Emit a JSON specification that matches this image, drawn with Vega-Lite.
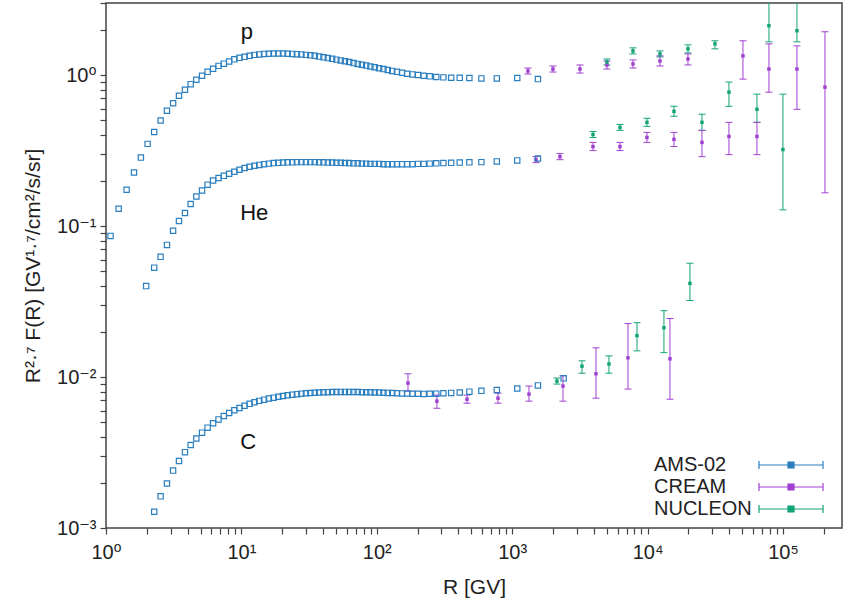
{
  "$schema": "https://vega.github.io/schema/vega-lite/v6.json",
  "width": 736,
  "height": 525,
  "autosize": "none",
  "padding": {"left": 106, "top": 3, "right": 2, "bottom": 75},
  "background": "white",
  "config": {
    "view": {"stroke": "#444", "strokeWidth": 1.5},
    "font": "Liberation Sans",
    "axis": {
      "labelFont": "Liberation Sans, DejaVu Sans",
      "labelFontSize": 20,
      "labelColor": "#222",
      "titleFont": "Liberation Sans, DejaVu Sans",
      "titleFontSize": 21,
      "titleFontWeight": "normal",
      "titleColor": "#222"
    }
  },
  "datasets": {
    "ams": [
      {"e":"AMS-02","R":1.08,"F":0.086},{"e":"AMS-02","R":1.24,"F":0.13},{"e":"AMS-02","R":1.42,"F":0.174},{"e":"AMS-02","R":1.61,"F":0.226},{"e":"AMS-02","R":1.81,"F":0.284},{"e":"AMS-02","R":2.03,"F":0.35},{"e":"AMS-02","R":2.27,"F":0.42},{"e":"AMS-02","R":2.53,"F":0.5},{"e":"AMS-02","R":2.82,"F":0.58},{"e":"AMS-02","R":3.13,"F":0.65},{"e":"AMS-02","R":3.46,"F":0.73},{"e":"AMS-02","R":3.83,"F":0.8},{"e":"AMS-02","R":4.22,"F":0.87},{"e":"AMS-02","R":4.65,"F":0.93},{"e":"AMS-02","R":5.12,"F":0.99},{"e":"AMS-02","R":5.63,"F":1.05},{"e":"AMS-02","R":6.18,"F":1.1},{"e":"AMS-02","R":6.78,"F":1.15},{"e":"AMS-02","R":7.42,"F":1.19},{"e":"AMS-02","R":8.12,"F":1.23},{"e":"AMS-02","R":8.87,"F":1.27},{"e":"AMS-02","R":9.68,"F":1.3},{"e":"AMS-02","R":10.55,"F":1.32},{"e":"AMS-02","R":11.5,"F":1.34},{"e":"AMS-02","R":12.5,"F":1.36},{"e":"AMS-02","R":13.55,"F":1.37},{"e":"AMS-02","R":14.7,"F":1.38},{"e":"AMS-02","R":15.95,"F":1.385},{"e":"AMS-02","R":17.3,"F":1.39},{"e":"AMS-02","R":18.75,"F":1.39},{"e":"AMS-02","R":20.3,"F":1.39},{"e":"AMS-02","R":21.95,"F":1.385},{"e":"AMS-02","R":23.75,"F":1.38},{"e":"AMS-02","R":25.7,"F":1.375},{"e":"AMS-02","R":27.75,"F":1.37},{"e":"AMS-02","R":29.95,"F":1.36},{"e":"AMS-02","R":32.3,"F":1.35},{"e":"AMS-02","R":34.8,"F":1.34},{"e":"AMS-02","R":37.5,"F":1.325},{"e":"AMS-02","R":40.4,"F":1.31},{"e":"AMS-02","R":43.5,"F":1.295},{"e":"AMS-02","R":46.8,"F":1.28},{"e":"AMS-02","R":50.35,"F":1.265},{"e":"AMS-02","R":54.15,"F":1.25},{"e":"AMS-02","R":58.2,"F":1.235},{"e":"AMS-02","R":62.55,"F":1.22},{"e":"AMS-02","R":67.25,"F":1.2},{"e":"AMS-02","R":72.3,"F":1.185},{"e":"AMS-02","R":77.7,"F":1.17},{"e":"AMS-02","R":83.5,"F":1.155},{"e":"AMS-02","R":89.75,"F":1.14},{"e":"AMS-02","R":96.5,"F":1.125},{"e":"AMS-02","R":104,"F":1.11},{"e":"AMS-02","R":112,"F":1.095},{"e":"AMS-02","R":120.5,"F":1.08},{"e":"AMS-02","R":130,"F":1.065},{"e":"AMS-02","R":141,"F":1.05},{"e":"AMS-02","R":153.5,"F":1.035},{"e":"AMS-02","R":167.5,"F":1.02},{"e":"AMS-02","R":183.5,"F":1.01},{"e":"AMS-02","R":201.5,"F":1.0},{"e":"AMS-02","R":222,"F":0.99},{"e":"AMS-02","R":246,"F":0.98},{"e":"AMS-02","R":275,"F":0.97},{"e":"AMS-02","R":310.5,"F":0.965},{"e":"AMS-02","R":354.5,"F":0.96},{"e":"AMS-02","R":410,"F":0.958},{"e":"AMS-02","R":483,"F":0.955},{"e":"AMS-02","R":592.5,"F":0.95},{"e":"AMS-02","R":770,"F":0.95},{"e":"AMS-02","R":1090,"F":0.955},{"e":"AMS-02","R":1550,"F":0.94},

      {"e":"AMS-02","R":1.98,"F":0.04},{"e":"AMS-02","R":2.27,"F":0.053},{"e":"AMS-02","R":2.53,"F":0.0625},{"e":"AMS-02","R":2.82,"F":0.075},{"e":"AMS-02","R":3.13,"F":0.093},{"e":"AMS-02","R":3.46,"F":0.108},{"e":"AMS-02","R":3.83,"F":0.122},{"e":"AMS-02","R":4.22,"F":0.14},{"e":"AMS-02","R":4.65,"F":0.157},{"e":"AMS-02","R":5.12,"F":0.172},{"e":"AMS-02","R":5.63,"F":0.188},{"e":"AMS-02","R":6.18,"F":0.2},{"e":"AMS-02","R":6.78,"F":0.208},{"e":"AMS-02","R":7.42,"F":0.215},{"e":"AMS-02","R":8.12,"F":0.222},{"e":"AMS-02","R":8.87,"F":0.229},{"e":"AMS-02","R":9.68,"F":0.236},{"e":"AMS-02","R":10.55,"F":0.242},{"e":"AMS-02","R":11.5,"F":0.247},{"e":"AMS-02","R":12.5,"F":0.251},{"e":"AMS-02","R":13.55,"F":0.254},{"e":"AMS-02","R":14.7,"F":0.257},{"e":"AMS-02","R":15.95,"F":0.259},{"e":"AMS-02","R":17.3,"F":0.261},{"e":"AMS-02","R":18.75,"F":0.262},{"e":"AMS-02","R":20.3,"F":0.263},{"e":"AMS-02","R":21.95,"F":0.264},{"e":"AMS-02","R":23.75,"F":0.264},{"e":"AMS-02","R":25.7,"F":0.265},{"e":"AMS-02","R":27.75,"F":0.265},{"e":"AMS-02","R":29.95,"F":0.265},{"e":"AMS-02","R":32.3,"F":0.265},{"e":"AMS-02","R":34.8,"F":0.265},{"e":"AMS-02","R":37.5,"F":0.264},{"e":"AMS-02","R":40.4,"F":0.264},{"e":"AMS-02","R":43.5,"F":0.263},{"e":"AMS-02","R":46.8,"F":0.263},{"e":"AMS-02","R":50.35,"F":0.262},{"e":"AMS-02","R":54.15,"F":0.262},{"e":"AMS-02","R":58.2,"F":0.261},{"e":"AMS-02","R":62.55,"F":0.261},{"e":"AMS-02","R":67.25,"F":0.26},{"e":"AMS-02","R":72.3,"F":0.26},{"e":"AMS-02","R":77.7,"F":0.259},{"e":"AMS-02","R":83.5,"F":0.259},{"e":"AMS-02","R":89.75,"F":0.258},{"e":"AMS-02","R":96.5,"F":0.258},{"e":"AMS-02","R":104,"F":0.258},{"e":"AMS-02","R":112,"F":0.257},{"e":"AMS-02","R":120.5,"F":0.257},{"e":"AMS-02","R":130,"F":0.257},{"e":"AMS-02","R":141,"F":0.257},{"e":"AMS-02","R":153.5,"F":0.257},{"e":"AMS-02","R":167.5,"F":0.257},{"e":"AMS-02","R":183.5,"F":0.257},{"e":"AMS-02","R":201.5,"F":0.258},{"e":"AMS-02","R":222,"F":0.258},{"e":"AMS-02","R":246,"F":0.259},{"e":"AMS-02","R":275,"F":0.26},{"e":"AMS-02","R":310.5,"F":0.261},{"e":"AMS-02","R":354.5,"F":0.262},{"e":"AMS-02","R":410,"F":0.263},{"e":"AMS-02","R":483,"F":0.264},{"e":"AMS-02","R":592.5,"F":0.265},{"e":"AMS-02","R":770,"F":0.268},{"e":"AMS-02","R":1090,"F":0.272},{"e":"AMS-02","R":1550,"F":0.28},

      {"e":"AMS-02","R":2.27,"F":0.00128},{"e":"AMS-02","R":2.53,"F":0.00162},{"e":"AMS-02","R":2.82,"F":0.00197},{"e":"AMS-02","R":3.13,"F":0.0024},{"e":"AMS-02","R":3.46,"F":0.00278},{"e":"AMS-02","R":3.83,"F":0.00318},{"e":"AMS-02","R":4.22,"F":0.00355},{"e":"AMS-02","R":4.65,"F":0.00392},{"e":"AMS-02","R":5.12,"F":0.00428},{"e":"AMS-02","R":5.63,"F":0.00462},{"e":"AMS-02","R":6.18,"F":0.00494},{"e":"AMS-02","R":6.78,"F":0.00524},{"e":"AMS-02","R":7.42,"F":0.00552},{"e":"AMS-02","R":8.12,"F":0.00578},{"e":"AMS-02","R":8.87,"F":0.00602},{"e":"AMS-02","R":9.68,"F":0.00624},{"e":"AMS-02","R":10.55,"F":0.00645},{"e":"AMS-02","R":11.5,"F":0.00664},{"e":"AMS-02","R":12.5,"F":0.0068},{"e":"AMS-02","R":13.55,"F":0.00695},{"e":"AMS-02","R":14.7,"F":0.00708},{"e":"AMS-02","R":15.95,"F":0.0072},{"e":"AMS-02","R":17.3,"F":0.0073},{"e":"AMS-02","R":18.75,"F":0.0074},{"e":"AMS-02","R":20.3,"F":0.00749},{"e":"AMS-02","R":21.95,"F":0.00757},{"e":"AMS-02","R":23.75,"F":0.00764},{"e":"AMS-02","R":25.7,"F":0.0077},{"e":"AMS-02","R":27.75,"F":0.00776},{"e":"AMS-02","R":29.95,"F":0.0078},{"e":"AMS-02","R":32.3,"F":0.00784},{"e":"AMS-02","R":34.8,"F":0.00787},{"e":"AMS-02","R":37.5,"F":0.0079},{"e":"AMS-02","R":40.4,"F":0.00792},{"e":"AMS-02","R":43.5,"F":0.00794},{"e":"AMS-02","R":46.8,"F":0.00795},{"e":"AMS-02","R":50.35,"F":0.00796},{"e":"AMS-02","R":54.15,"F":0.00797},{"e":"AMS-02","R":58.2,"F":0.00797},{"e":"AMS-02","R":62.55,"F":0.00797},{"e":"AMS-02","R":67.25,"F":0.00796},{"e":"AMS-02","R":72.3,"F":0.00795},{"e":"AMS-02","R":77.7,"F":0.00794},{"e":"AMS-02","R":83.5,"F":0.00793},{"e":"AMS-02","R":89.75,"F":0.00792},{"e":"AMS-02","R":96.5,"F":0.0079},{"e":"AMS-02","R":104,"F":0.00789},{"e":"AMS-02","R":112,"F":0.00787},{"e":"AMS-02","R":120.5,"F":0.00785},{"e":"AMS-02","R":130,"F":0.00783},{"e":"AMS-02","R":141,"F":0.00781},{"e":"AMS-02","R":153.5,"F":0.00779},{"e":"AMS-02","R":167.5,"F":0.00777},{"e":"AMS-02","R":183.5,"F":0.00775},{"e":"AMS-02","R":201.5,"F":0.00774},{"e":"AMS-02","R":222,"F":0.00773},{"e":"AMS-02","R":246,"F":0.00774},{"e":"AMS-02","R":275,"F":0.00776},{"e":"AMS-02","R":310.5,"F":0.0078},{"e":"AMS-02","R":354.5,"F":0.00785},{"e":"AMS-02","R":410,"F":0.0079},{"e":"AMS-02","R":483,"F":0.008},{"e":"AMS-02","R":592.5,"F":0.0081},{"e":"AMS-02","R":770,"F":0.0082},{"e":"AMS-02","R":1090,"F":0.0084},{"e":"AMS-02","R":1550,"F":0.0088},{"e":"AMS-02","R":2400,"F":0.0098}
    ],
    "err": [
      {"e":"CREAM","R":1308,"F":1.063,"lo":1.015,"hi":1.113},
      {"e":"CREAM","R":2001,"F":1.096,"lo":1.047,"hi":1.148},
      {"e":"CREAM","R":3168,"F":1.096,"lo":1.031,"hi":1.166},
      {"e":"CREAM","R":5013,"F":1.166,"lo":1.096,"hi":1.24},
      {"e":"CREAM","R":7803,"F":1.184,"lo":1.113,"hi":1.259},
      {"e":"CREAM","R":12348,"F":1.24,"lo":1.148,"hi":1.339},
      {"e":"CREAM","R":19882,"F":1.278,"lo":1.166,"hi":1.38},
      {"e":"CREAM","R":50660,"F":1.339,"lo":0.94,"hi":1.686},
      {"e":"CREAM","R":78800,"F":1.096,"lo":0.77,"hi":1.609},
      {"e":"CREAM","R":126900,"F":1.096,"lo":0.593,"hi":1.561},
      {"e":"CREAM","R":204300,"F":0.832,"lo":0.166,"hi":1.935},
      {"e":"NUCLEON","R":5013,"F":1.22,"lo":1.166,"hi":1.278},
      {"e":"NUCLEON","R":7803,"F":1.445,"lo":1.38,"hi":1.514},
      {"e":"NUCLEON","R":12348,"F":1.38,"lo":1.318,"hi":1.445},
      {"e":"NUCLEON","R":19882,"F":1.491,"lo":1.402,"hi":1.585},
      {"e":"NUCLEON","R":31468,"F":1.609,"lo":1.491,"hi":1.686},
      {"e":"NUCLEON","R":78800,"F":2.121,"lo":1.66,"hi":3.3},
      {"e":"NUCLEON","R":126900,"F":1.965,"lo":1.66,"hi":3.3},

      {"e":"CREAM","R":1499,"F":0.275,"lo":0.263,"hi":0.288},
      {"e":"CREAM","R":2254,"F":0.288,"lo":0.275,"hi":0.302},
      {"e":"CREAM","R":3953,"F":0.336,"lo":0.316,"hi":0.358},
      {"e":"CREAM","R":6255,"F":0.336,"lo":0.316,"hi":0.358},
      {"e":"CREAM","R":9899,"F":0.386,"lo":0.358,"hi":0.417},
      {"e":"CREAM","R":15668,"F":0.375,"lo":0.336,"hi":0.417},
      {"e":"CREAM","R":25225,"F":0.358,"lo":0.288,"hi":0.43},
      {"e":"CREAM","R":39930,"F":0.392,"lo":0.297,"hi":0.486},
      {"e":"CREAM","R":64270,"F":0.392,"lo":0.297,"hi":0.486},
      {"e":"NUCLEON","R":3953,"F":0.404,"lo":0.386,"hi":0.423},
      {"e":"NUCLEON","R":6255,"F":0.45,"lo":0.43,"hi":0.471},
      {"e":"NUCLEON","R":9899,"F":0.486,"lo":0.457,"hi":0.517},
      {"e":"NUCLEON","R":15668,"F":0.575,"lo":0.533,"hi":0.621},
      {"e":"NUCLEON","R":25225,"F":0.486,"lo":0.43,"hi":0.55},
      {"e":"NUCLEON","R":39930,"F":0.77,"lo":0.621,"hi":0.898},
      {"e":"NUCLEON","R":64270,"F":0.593,"lo":0.486,"hi":0.747},
      {"e":"NUCLEON","R":100000,"F":0.321,"lo":0.128,"hi":0.747},

      {"e":"CREAM","R":170,"F":0.00912,"lo":0.00806,"hi":0.0105},
      {"e":"CREAM","R":278,"F":0.00692,"lo":0.00621,"hi":0.00759},
      {"e":"CREAM","R":464,"F":0.00713,"lo":0.00671,"hi":0.00759},
      {"e":"CREAM","R":786,"F":0.00724,"lo":0.00671,"hi":0.00782},
      {"e":"CREAM","R":1331,"F":0.0077,"lo":0.00692,"hi":0.00871},
      {"e":"CREAM","R":2373,"F":0.00871,"lo":0.00692,"hi":0.0102},
      {"e":"CREAM","R":4158,"F":0.0105,"lo":0.00724,"hi":0.0156},
      {"e":"CREAM","R":7166,"F":0.0134,"lo":0.00832,"hi":0.0226},
      {"e":"CREAM","R":14637,"F":0.0132,"lo":0.00713,"hi":0.0244},
      {"e":"NUCLEON","R":2142,"F":0.0094,"lo":0.00898,"hi":0.00985},
      {"e":"NUCLEON","R":3278,"F":0.0118,"lo":0.0106,"hi":0.0128},
      {"e":"NUCLEON","R":5187,"F":0.0122,"lo":0.0106,"hi":0.0138},
      {"e":"NUCLEON","R":8352,"F":0.0188,"lo":0.0149,"hi":0.0229},
      {"e":"NUCLEON","R":13215,"F":0.0212,"lo":0.0145,"hi":0.0275},
      {"e":"NUCLEON","R":20565,"F":0.0417,"lo":0.0321,"hi":0.0567}
    ],
    "labels": [
      {"t":"p","R":9.9,"F":1.74},
      {"t":"He","R":9.8,"F":0.11},
      {"t":"C","R":9.8,"F":0.00336}
    ]
  },
  "layer": [
    {
      "data": {"name": "err"},
      "mark": {"type": "rule", "strokeWidth": 1, "clip": true, "opacity": 1},
      "encoding": {
        "x": {"field": "R", "type": "quantitative",
          "scale": {"type": "log", "domain": [1, 273000], "nice": false},
          "axis": {"orient": "bottom", "title": "R [GV]", "titlePadding": 14,
            "grid": false, "domain": false, "ticks": true, "tickSize": 6, "tickColor": "#444", "tickWidth": 1.2,
            "values": [1,2,3,4,5,6,7,8,9,10,20,30,40,50,60,70,80,90,100,200,300,400,500,600,700,800,900,1000,2000,3000,4000,5000,6000,7000,8000,9000,10000,20000,30000,40000,50000,60000,70000,80000,90000,100000,200000],
            "labelExpr": "datum.value == 1 ? '10⁰' : datum.value == 10 ? '10¹' : datum.value == 100 ? '10²' : datum.value == 1000 ? '10³' : datum.value == 10000 ? '10⁴' : datum.value == 100000 ? '10⁵' : ''",
            "labelPadding": 8, "labelFlush": false, "labelOverlap": false}},
        "y": {"field": "lo", "type": "quantitative",
          "scale": {"type": "log", "domain": [0.001, 3], "nice": false},
          "axis": {"orient": "left", "title": "R²·⁷ F(R) [GV¹·⁷/cm²/s/sr]", "titlePadding": 13,
            "grid": false, "domain": false, "ticks": true, "tickSize": 6, "tickColor": "#444", "tickWidth": 1.2,
            "values": [0.001,0.002,0.003,0.004,0.005,0.006,0.007,0.008,0.009,0.01,0.02,0.03,0.04,0.05,0.06,0.07,0.08,0.09,0.1,0.2,0.3,0.4,0.5,0.6,0.7,0.8,0.9,1,2,3],
            "labelExpr": "datum.value == 0.001 ? '10⁻³' : datum.value == 0.01 ? '10⁻²' : datum.value == 0.1 ? '10⁻¹' : datum.value == 1 ? '10⁰' : ''",
            "labelPadding": 4, "labelFlush": false, "labelOverlap": false}},
        "y2": {"field": "hi"},
        "color": {"field": "e", "type": "nominal",
          "scale": {"domain": ["AMS-02", "CREAM", "NUCLEON"], "range": ["#2a7fc0", "#a040d0", "#12a476"]},
          "legend": {"title": null, "orient": "none", "legendX": 526, "legendY": 452,
            "labelFont": "Liberation Sans", "labelFontSize": 20, "labelColor": "#222",
            "symbolType": "M 117 0 L 181 0 M 117 -4 L 117 4 M 181 -4 L 181 4 M 146 -3 L 152 -3 L 152 3 L 146 3 Z",
            "symbolSize": 4, "symbolStrokeWidth": 1.2, "labelOffset": 2, "rowPadding": 2, "padding": 0}}
      }
    },
    {
      "data": {"name": "err"},
      "mark": {"type": "tick", "orient": "horizontal", "size": 7, "thickness": 1, "clip": true, "opacity": 1},
      "encoding": {
        "x": {"field": "R", "type": "quantitative"},
        "y": {"field": "lo", "type": "quantitative"},
        "color": {"field": "e", "type": "nominal"}
      }
    },
    {
      "data": {"name": "err"},
      "mark": {"type": "tick", "orient": "horizontal", "size": 7, "thickness": 1, "clip": true, "opacity": 1},
      "encoding": {
        "x": {"field": "R", "type": "quantitative"},
        "y": {"field": "hi", "type": "quantitative"},
        "color": {"field": "e", "type": "nominal"}
      }
    },
    {
      "data": {"name": "err"},
      "mark": {"type": "point", "shape": "square", "filled": true, "size": 12, "clip": true, "opacity": 1},
      "encoding": {
        "x": {"field": "R", "type": "quantitative"},
        "y": {"field": "F", "type": "quantitative"},
        "color": {"field": "e", "type": "nominal"}
      }
    },
    {
      "data": {"name": "ams"},
      "mark": {"type": "point", "shape": "square", "filled": false, "size": 28, "strokeWidth": 1.2, "clip": true, "opacity": 1},
      "encoding": {
        "x": {"field": "R", "type": "quantitative"},
        "y": {"field": "F", "type": "quantitative"},
        "color": {"field": "e", "type": "nominal"}
      }
    },
    {
      "data": {"name": "labels"},
      "mark": {"type": "text", "align": "left", "baseline": "alphabetic", "fontSize": 22, "font": "Liberation Sans", "color": "#111"},
      "encoding": {
        "x": {"field": "R", "type": "quantitative"},
        "y": {"field": "F", "type": "quantitative"},
        "text": {"field": "t"}
      }
    }
  ]
}
